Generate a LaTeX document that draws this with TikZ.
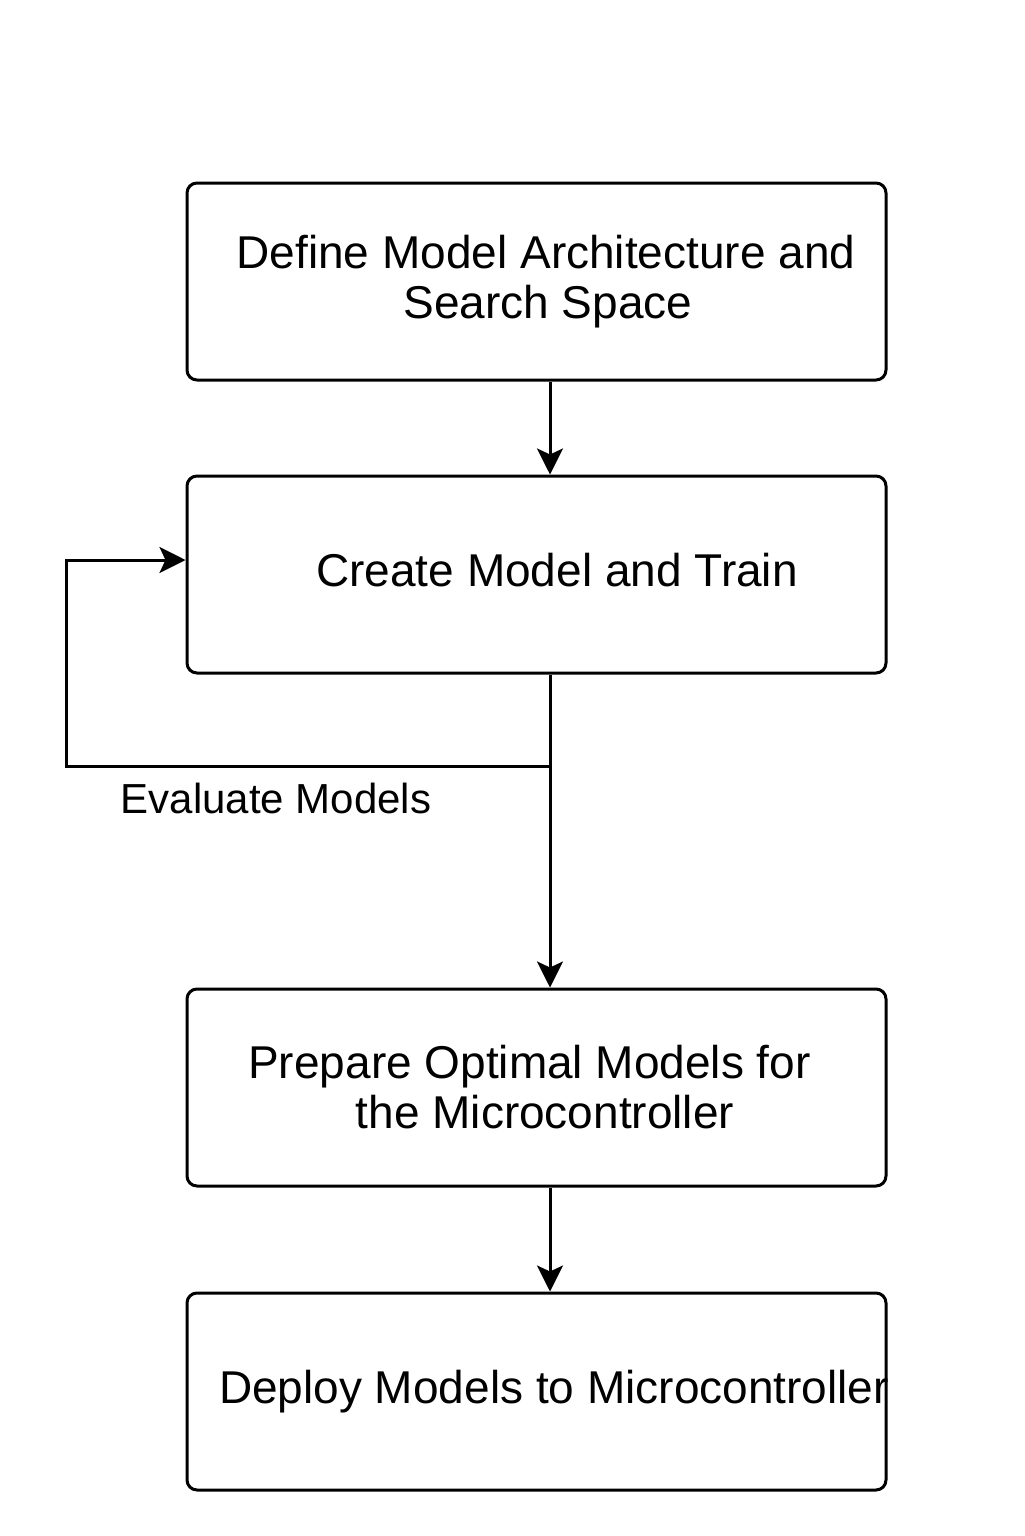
\documentclass[tikz,border=0pt]{standalone}
\usepackage{fontspec}
\setmainfont{Liberation Sans}
\usetikzlibrary{arrows.meta,positioning}

\tikzset{
	box/.style={draw,rounded corners=5pt,line width=1.5pt,minimum width=349.5pt,minimum height=98.5pt,align=center,inner sep=0pt,font=\fontsize{23}{25}\selectfont},
}

\begin{document}
\begin{tikzpicture}[line width=1.5pt,node distance=2cm,on grid,>={Stealth[length=13pt,width=13pt,inset=3pt]}]
		\path[use as bounding box,fill=white] (0,0) rectangle (512pt,-768pt);
		\node[box] (define) at (268.25pt,-140.75pt) {\hspace*{9.5pt}Define Model Architecture and\\\hspace*{11.5pt}Search Space};
		\node[box] (train) [below=146.5pt of define] {\raisebox{5pt}{\hspace*{20.5pt}Create Model and Train}};
		\node[box] (prepare) [below=256.5pt of train] {\hspace*{-7pt}Prepare Optimal Models for\\\hspace*{8.5pt}the Microcontroller};
		\node[box] (deploy) [below=152pt of prepare] {\hspace*{8.75pt}Deploy Models to Microcontroller\hspace*{-8.75pt}};
		\coordinate (branch) at (275pt,-383pt);
		\coordinate (loopleft) at (33pt,-383pt);
		\node (eval) at (138pt,-399pt) {\fontsize{21}{24}\selectfont Evaluate Models};
		\path[->]
			([xshift=6.75pt]define.south) edge ([xshift=6.75pt]train.north)
			([xshift=6.75pt]train.south) edge ([xshift=6.75pt]prepare.north)
			([xshift=6.75pt]prepare.south) edge ([xshift=6.75pt]deploy.north);
		\draw[->] (branch) -- (loopleft) |- ([yshift=7.25pt]train.west);
	\end{tikzpicture}
\end{document}
